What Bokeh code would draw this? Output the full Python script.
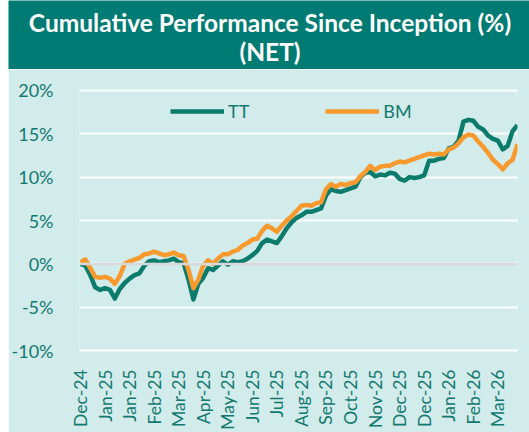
from bokeh.plotting import figure
from bokeh.layouts import column, row
from bokeh.models import FixedTicker, Legend, LegendItem, Span, Range1d, Spacer, Label
from bokeh.embed import file_html
from bokeh.resources import INLINE

title_line1 = "Cumulative Performance Since Inception (%)"
title_line2 = "(NET)"

tick_index = [0, 5, 10, 15, 20, 25, 30, 35, 40, 45, 50, 55, 60, 65, 70, 75, 80, 85]
tick_labels = ["Dec-24", "Jan-25", "Jan-25", "Feb-25", "Mar-25", "Apr-25", "May-25", "Jun-25",
               "Jul-25", "Aug-25", "Sep-25", "Oct-25", "Nov-25", "Dec-25", "Dec-25", "Jan-26",
               "Feb-26", "Mar-26"]

y_ticks = [-10, -5, 0, 5, 10, 15, 20]
y_labels = ["-10%", "-5%", "0%", "5%", "10%", "15%", "20%"]

tt = [0.0, -0.2, -1.3, -2.7, -3.0, -2.8, -3.0, -4.0, -2.9, -2.2,
      -1.7, -1.3, -1.1, -0.2, 0.3, 0.4, 0.2, 0.3, 0.4, 0.6,
      0.2, 0.1, -1.8, -4.1, -2.3, -1.6, -0.5, -0.7, -0.2, 0.3,
      -0.1, 0.3, 0.2, 0.3, 0.6, 1.0, 1.5, 2.4, 2.8, 2.6,
      2.4, 3.2, 4.1, 4.8, 5.3, 5.6, 6.0, 6.0, 6.2, 6.4,
      7.9, 8.6, 8.4, 8.3, 8.5, 8.7, 8.9, 10.0, 10.5, 10.6,
      10.1, 10.3, 10.2, 10.5, 10.4, 9.8, 9.6, 10.0, 9.9, 10.0,
      10.2, 11.9, 11.9, 12.1, 12.2, 13.3, 13.5, 14.2, 16.4, 16.6,
      16.5, 15.8, 15.5, 14.8, 14.4, 14.2, 13.2, 13.6, 15.3, 16.0]

bm = [0.2, 0.5, -0.5, -1.5, -1.6, -1.5, -1.7, -2.3, -1.4, 0.0,
      0.3, 0.5, 0.7, 1.1, 1.2, 1.4, 1.2, 1.0, 1.1, 1.3,
      1.0, 0.9, -0.7, -2.8, -1.8, -0.2, 0.4, 0.0, 0.6, 1.1,
      1.1, 1.4, 1.6, 2.1, 2.4, 2.8, 2.9, 3.8, 4.4, 4.1,
      3.7, 4.4, 5.0, 5.5, 6.1, 6.7, 6.8, 6.7, 7.0, 7.1,
      8.6, 9.2, 8.9, 9.2, 9.1, 9.3, 9.4, 10.1, 10.6, 11.3,
      10.8, 11.2, 11.3, 11.3, 11.6, 11.8, 11.7, 11.9, 12.1, 12.3,
      12.5, 12.7, 12.6, 12.7, 12.6, 13.2, 13.4, 13.9, 14.6, 14.9,
      14.8, 14.1, 13.5, 12.8, 12.0, 11.5, 10.9, 11.6, 12.0, 13.8]

x = list(range(len(tt)))

HEADER = "#007b73"
BG = "#d2ebeb"
TEAL_TXT = "#13796f"
TT_COL = "#0b7b6c"
BM_COL = "#f7992c"
FONT = "Lato"

LEFT, RIGHT = 67, 12

# Header band: its own full-width frame (frame alignment with the chart switched off)
h = figure(width=521, height=69, x_range=Range1d(0, 521), y_range=Range1d(0, 69),
           x_axis_type=None, y_axis_type=None,
           output_backend="svg", toolbar_location=None, min_border=0)
h.frame_align = False
h.grid.visible = False
h.outline_line_color = None
h.background_fill_color = HEADER
h.border_fill_color = HEADER
for txt, yy in ((title_line1, 47.5), (title_line2, 18)):
    h.add_layout(Label(x=261.5, y=yy, text=txt, text_font=FONT, text_font_style="bold",
                       text_font_size="24.5px", text_color="white",
                       text_align="center", text_baseline="middle"))

# Main chart
p = figure(width=521, height=363, x_range=Range1d(-0.2, 89.0), y_range=Range1d(-10.1, 20.1),
           output_backend="svg", toolbar_location=None,
           min_border_left=LEFT, min_border_right=RIGHT, min_border_top=20, min_border_bottom=79)
p.frame_align = False
p.background_fill_color = BG
p.border_fill_color = BG
p.outline_line_color = None
p.xgrid.visible = False
p.ygrid.grid_line_color = "white"
p.ygrid.grid_line_width = 2
p.ygrid.ticker = FixedTicker(ticks=y_ticks)

p.add_layout(Span(location=0, dimension="width", line_color="#d9d9d9", line_width=2.5))

p.yaxis.ticker = FixedTicker(ticks=y_ticks)
p.yaxis.major_label_overrides = {v: s for v, s in zip(y_ticks, y_labels)}
p.xaxis.ticker = FixedTicker(ticks=tick_index)
p.xaxis.major_label_overrides = {v: s for v, s in zip(tick_index, tick_labels)}
p.xaxis.major_label_orientation = 1.5708

for ax in (p.xaxis, p.yaxis):
    ax.axis_line_color = None
    ax.major_tick_line_color = None
    ax.minor_tick_line_color = None
    ax.major_label_text_color = TEAL_TXT
    ax.major_label_text_font = FONT
p.yaxis.major_label_text_font_size = "18px"
p.yaxis.major_label_standoff = 20
p.xaxis.major_label_text_font_size = "17.5px"
p.xaxis.major_label_standoff = 12

r_tt = p.line(x, tt, line_color=TT_COL, line_width=4.5, line_join="round")
r_bm = p.line(x, bm, line_color=BM_COL, line_width=4.5, line_join="round")

legend = Legend(items=[LegendItem(label="TT", renderers=[r_tt]),
                       LegendItem(label="BM", renderers=[r_bm])],
                orientation="horizontal", location=(91, 229),
                background_fill_alpha=0, border_line_color=None,
                glyph_width=54, glyph_height=20, label_standoff=4, spacing=76,
                padding=0, margin=0,
                label_text_font=FONT, label_text_font_size="18px",
                label_text_color=TEAL_TXT)
p.add_layout(legend)

layout = row(Spacer(width=8, height=432), column(h, p, spacing=0), spacing=0)
open("out.html", "w").write(file_html(layout, INLINE))
